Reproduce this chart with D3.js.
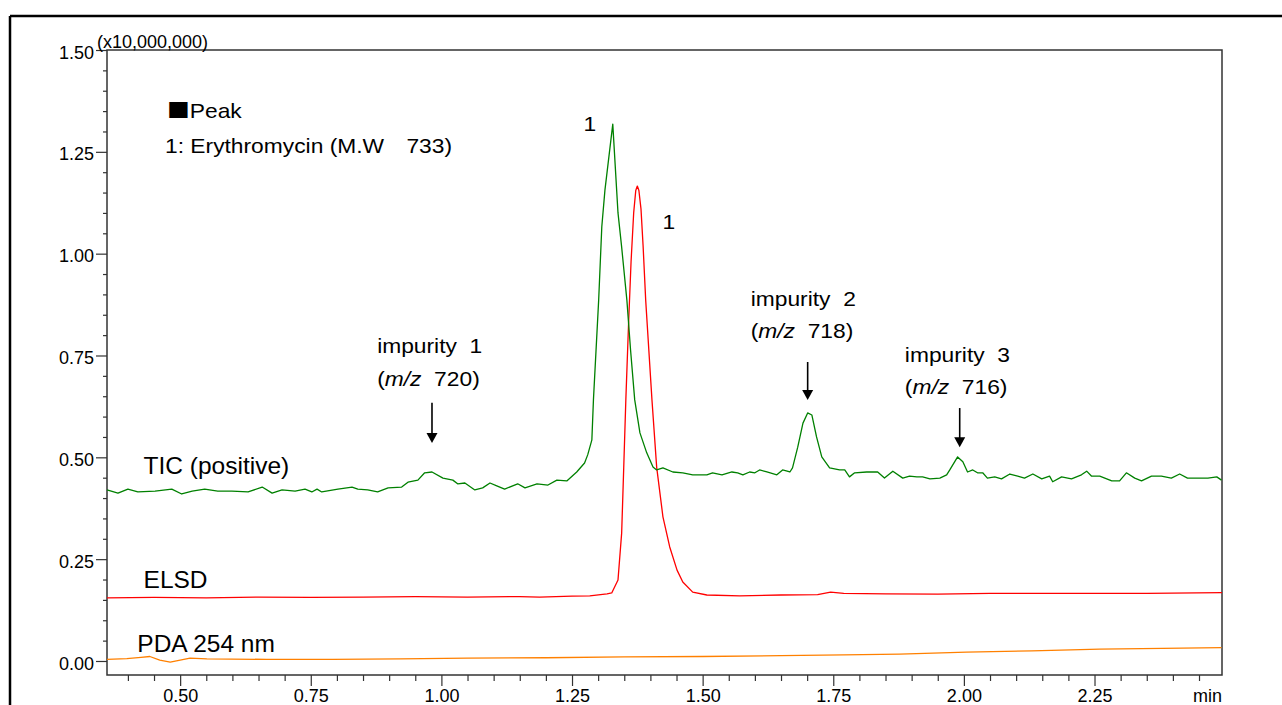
<!DOCTYPE html>
<html>
<head>
<meta charset="utf-8">
<script src="https://cdn.jsdelivr.net/npm/d3@7"></script>
<style>
  html, body { margin: 0; padding: 0; background: #fff; }
  svg { display: block; }
  text { font-family: "Liberation Sans", Arial, sans-serif; fill: #000; white-space: pre; }
</style>
</head>
<body>
<svg id="chart" width="1282" height="705"></svg>
<script>
// ---------------- data (time in min, intensity in x10,000,000) ----------------
const ticTime = [0.360,0.381,0.400,0.419,0.452,0.484,0.503,0.523,0.547,0.572,0.599,0.630,0.657,0.676,0.695,0.720,0.739,0.752,0.762,0.771,0.802,0.829,0.840,0.859,0.878,0.898,0.924,0.936,0.955,0.968,0.982,1.003,1.022,1.031,1.045,1.064,1.079,1.093,1.106,1.121,1.146,1.160,1.183,1.204,1.221,1.240,1.259,1.274,1.280,1.288,1.291,1.301,1.307,1.313,1.328,1.338,1.345,1.355,1.362,1.370,1.380,1.393,1.405,1.412,1.424,1.443,1.462,1.481,1.508,1.519,1.537,1.556,1.567,1.577,1.590,1.600,1.609,1.623,1.642,1.653,1.667,1.672,1.682,1.692,1.701,1.709,1.718,1.728,1.743,1.762,1.772,1.781,1.791,1.814,1.835,1.848,1.864,1.883,1.896,1.910,1.921,1.935,1.954,1.967,1.973,1.988,1.998,2.007,2.017,2.026,2.036,2.045,2.059,2.072,2.088,2.103,2.116,2.132,2.149,2.164,2.170,2.187,2.206,2.225,2.235,2.244,2.260,2.283,2.298,2.311,2.327,2.340,2.359,2.378,2.397,2.413,2.428,2.448,2.467,2.484,2.493];
const ticValue = [0.420,0.412,0.422,0.415,0.417,0.422,0.410,0.417,0.422,0.417,0.417,0.415,0.427,0.412,0.420,0.417,0.422,0.415,0.422,0.415,0.422,0.427,0.422,0.420,0.415,0.425,0.427,0.439,0.444,0.462,0.464,0.449,0.444,0.435,0.437,0.420,0.425,0.437,0.430,0.422,0.435,0.425,0.435,0.432,0.444,0.442,0.464,0.486,0.506,0.543,0.641,0.886,1.066,1.156,1.318,1.100,1.016,0.886,0.764,0.641,0.560,0.511,0.476,0.469,0.474,0.464,0.462,0.457,0.457,0.462,0.457,0.464,0.462,0.457,0.464,0.462,0.469,0.464,0.457,0.469,0.464,0.474,0.525,0.584,0.609,0.604,0.550,0.501,0.474,0.469,0.469,0.452,0.462,0.464,0.464,0.449,0.466,0.449,0.454,0.452,0.452,0.447,0.449,0.457,0.469,0.501,0.489,0.464,0.469,0.462,0.462,0.449,0.452,0.447,0.459,0.454,0.449,0.459,0.447,0.454,0.440,0.452,0.447,0.457,0.466,0.454,0.454,0.442,0.442,0.462,0.449,0.442,0.454,0.454,0.449,0.459,0.449,0.449,0.449,0.452,0.444];

const elsdTime = [0.36,0.45,0.55,0.65,0.75,0.85,0.95,1.05,1.15,1.188,1.25,1.284,1.317,1.326,1.338,1.345,1.349,1.353,1.358,1.363,1.368,1.372,1.375,1.378,1.382,1.386,1.391,1.403,1.412,1.424,1.437,1.451,1.462,1.481,1.508,1.571,1.65,1.72,1.745,1.77,1.85,1.95,2.05,2.15,2.25,2.35,2.494];
const elsdValue = [0.155,0.156,0.155,0.157,0.156,0.157,0.158,0.157,0.158,0.157,0.159,0.160,0.165,0.167,0.199,0.314,0.476,0.641,0.820,0.980,1.100,1.155,1.166,1.155,1.110,1.020,0.886,0.641,0.476,0.354,0.280,0.223,0.194,0.169,0.162,0.160,0.162,0.163,0.169,0.166,0.165,0.164,0.166,0.166,0.166,0.166,0.168];

const pdaTime = [0.36,0.398,0.425,0.442,0.461,0.481,0.500,0.519,0.551,0.666,0.792,0.921,1.05,1.2,1.35,1.5,1.65,1.77,1.877,2.005,2.13,2.26,2.38,2.493];
const pdaValue = [0.004,0.006,0.009,0.011,0.002,-0.003,0.002,0.007,0.005,0.004,0.004,0.005,0.007,0.008,0.010,0.011,0.013,0.015,0.017,0.022,0.025,0.029,0.031,0.033];

const xMajorTicks = [0.50, 0.75, 1.00, 1.25, 1.50, 1.75, 2.00, 2.25];
const yMajorTicks = [0.00, 0.25, 0.50, 0.75, 1.00, 1.25, 1.50];
const xMinorTicks = d3.range(8, 50).map(i => i * 0.05);
const yMinorTicks = d3.range(0, 30).map(i => i * 0.05);

const seriesNames = ["TIC (positive)", "ELSD", "PDA 254 nm"];
const impurityNames = ["impurity  1", "impurity  2", "impurity  3"];
const impurityMz = ["720", "718", "716"];
const impurityTime = [0.982, 1.701, 1.992];
const peakLabel = "1";
const legendMark = "\u25A0";
const legendTitle = "Peak";
const legendEntry = "1: Erythromycin (M.W\u3000733)";
const yUnit = "(x10,000,000)";
const xUnit = "min";

// ---------------- drawing ----------------
const svg = d3.select("#chart");
const L = 107, R = 1222, T = 50, B = 675;
const x = d3.scaleLinear().domain([0.36, 2.494]).range([L, R]);
const y = d3.scaleLinear().domain([-0.0344, 1.5]).range([B, T]);

// outer frame
svg.append("line").attr("x1", 10).attr("x2", 1282).attr("y1", 16).attr("y2", 16)
  .attr("stroke", "#000").attr("stroke-width", 2.5);
svg.append("line").attr("x1", 10).attr("x2", 10).attr("y1", 16).attr("y2", 705)
  .attr("stroke", "#000").attr("stroke-width", 2.5);

// axes
const axisColor = "#333";
const fmt = d3.format(".2f");
const yAxis = svg.append("g").attr("transform", `translate(${L},0)`)
  .call(d3.axisLeft(y).tickValues(yMajorTicks).tickSize(11).tickPadding(2).tickFormat(fmt));
const yAxisMinor = svg.append("g").attr("transform", `translate(${L},0)`)
  .call(d3.axisLeft(y).tickValues(yMinorTicks.filter(v => !yMajorTicks.some(m => Math.abs(m - v) < 1e-6))).tickSize(4).tickFormat(""));
const xAxis = svg.append("g").attr("transform", `translate(0,${B})`)
  .call(d3.axisBottom(x).tickValues(xMajorTicks).tickSize(11).tickPadding(4).tickFormat(fmt));
const xAxisMinor = svg.append("g").attr("transform", `translate(0,${B})`)
  .call(d3.axisBottom(x).tickValues(xMinorTicks.filter(v => !xMajorTicks.some(m => Math.abs(m - v) < 1e-6))).tickSize(6).tickFormat(""));
[yAxis, yAxisMinor, xAxis, xAxisMinor].forEach(g => {
  g.select(".domain").remove();
  g.selectAll("line").attr("stroke", axisColor).attr("stroke-width", 1.2);
  g.selectAll("text").attr("font-family", "Liberation Sans, Arial, sans-serif")
    .attr("font-size", 18).attr("fill", "#000");
});
yAxis.selectAll("text").attr("dy", "0.45em");
xAxis.selectAll("text").attr("dy", "0.66em");

// plot box
svg.append("rect").attr("x", L).attr("y", T).attr("width", R - L).attr("height", B - T)
  .attr("fill", "none").attr("stroke", axisColor).attr("stroke-width", 1.5);

// unit labels
svg.append("text").attr("x", 97).attr("y", 48).attr("font-size", 18).text(yUnit);
svg.append("text").attr("x", R).attr("y", 702).attr("text-anchor", "end").attr("font-size", 18).text(xUnit);

// traces
const line = d3.line().x(d => x(d[0])).y(d => y(d[1]));
const traces = [
  { t: pdaTime, v: pdaValue, color: "#ff8000" },
  { t: elsdTime, v: elsdValue, color: "#ff0000" },
  { t: ticTime, v: ticValue, color: "#008000" }
];
const plot = svg.append("g");
traces.forEach(tr => {
  plot.append("path").datum(d3.zip(tr.t, tr.v))
    .attr("d", line).attr("fill", "none").attr("stroke", tr.color)
    .attr("stroke-width", 1.3).attr("stroke-linejoin", "round");
});

// stretched annotation text helper
function stext(px, py, size, sx) {
  const g = svg.append("g").attr("transform", `translate(${px},${py}) scale(${sx},1)`);
  return g.append("text").attr("x", 0).attr("y", 0).attr("font-size", size);
}
const SX = 1.14;

// series labels
const seriesLabelPos = [[0.43, 0.46], [0.43, 0.18], [0.418, 0.022]];
seriesNames.forEach((s, i) => {
  svg.append("text").attr("x", x(seriesLabelPos[i][0])).attr("y", y(seriesLabelPos[i][1]))
    .attr("font-size", 24.5).text(s);
});

// legend
const lg = stext(x(0.36) + 60, y(1.333), 20, SX);
lg.append("tspan").attr("font-family", "Noto Sans CJK JP").text(legendMark);
lg.append("tspan").text(legendTitle);
stext(x(0.36) + 58, y(1.247), 20, SX).text(legendEntry);

// peak labels
stext(x(1.272), y(1.30), 20, SX).text(peakLabel);
stext(x(1.423), y(1.06), 20, SX).text(peakLabel);

// impurity annotations
const impTextPos = [[0.877, 0.755, 0.676], [1.592, 0.872, 0.793], [1.887, 0.734, 0.656]];
const arrowSpan = [[0.634, 0.535], [0.734, 0.641], [0.621, 0.525]];
impurityNames.forEach((name, i) => {
  const [tx, ty1, ty2] = impTextPos[i];
  stext(x(tx), y(ty1), 20, SX).text(name);
  const t2 = stext(x(tx), y(ty2), 20, SX);
  t2.append("tspan").text("(");
  t2.append("tspan").attr("font-style", "italic").text("m/z");
  t2.append("tspan").text("  " + impurityMz[i] + ")");
  const ax = x(impurityTime[i]);
  const y1 = y(arrowSpan[i][0]), y2 = y(arrowSpan[i][1]);
  svg.append("line").attr("x1", ax).attr("x2", ax).attr("y1", y1).attr("y2", y2 - 8)
    .attr("stroke", "#000").attr("stroke-width", 1.6);
  svg.append("path").attr("d", `M${ax - 5.5},${y2 - 10} L${ax + 5.5},${y2 - 10} L${ax},${y2} Z`)
    .attr("fill", "#000");
});
</script>
</body>
</html>
